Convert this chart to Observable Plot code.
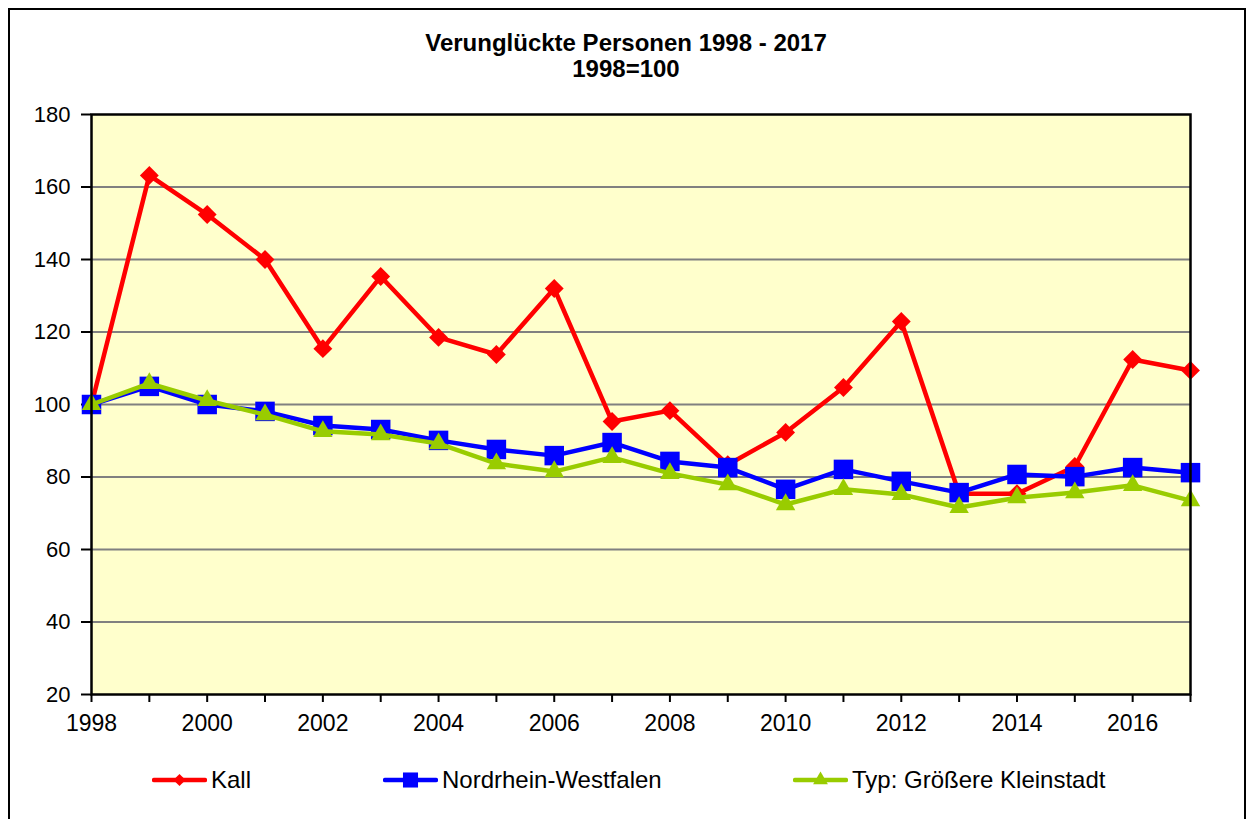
<!DOCTYPE html>
<html>
<head>
<meta charset="utf-8">
<script src="https://cdn.jsdelivr.net/npm/d3@7"></script>
<script src="https://cdn.jsdelivr.net/npm/@observablehq/plot@0.6"></script>
<style>
  html, body { margin: 0; padding: 0; background: #fff; }
  body { width: 1252px; height: 819px; position: relative; overflow: hidden; font-family: "Liberation Sans", Arial, sans-serif; }
  #frame { position: absolute; left: 8px; top: 8px; width: 1238px; height: 830px; border: 2px solid #000; box-sizing: border-box; }
  #title { position: absolute; left: 0; width: 1252px; top: 30px; text-align: center; font-weight: bold; font-size: 24px; line-height: 26px; color: #000; }
  #chart { position: absolute; left: 0; top: 0; }
  #legend { position: absolute; top: 765px; left: 0; width: 1252px; height: 30px; font-size: 24px; color: #000; }
  .item { position: absolute; top: 0; display: flex; align-items: center; height: 30px; }
  .item svg { margin-right: 4px; }
</style>
</head>
<body>
<div id="frame"></div>
<div id="title">Verunglückte Personen 1998 - 2017<br>1998=100</div>
<div id="chart"></div>
<div id="legend"></div>
<script>
const years = d3.range(1998, 2018);
const kall = [100, 163.2, 152.4, 140.0, 115.4, 135.3, 118.5, 113.8, 132.0, 95.3, 98.3, 83.4, 92.3, 104.7, 122.9, 75.4, 75.4, 82.9, 112.4, 109.4];
const nrw = [100, 105.0, 100.0, 98.1, 94.2, 93.1, 90.1, 87.6, 85.9, 89.5, 84.3, 82.6, 76.6, 82.1, 78.8, 75.7, 80.7, 80.1, 82.6, 81.2];
const kleinstadt = [100, 105.8, 101.1, 97.2, 92.6, 91.7, 89.2, 83.7, 81.5, 85.4, 81.0, 77.9, 72.4, 76.6, 75.2, 71.6, 74.3, 75.7, 77.7, 73.5];
const seriesNames = ["Kall", "Nordrhein-Westfalen", "Typ: Größere Kleinstadt"];
const seriesColors = ["#FF0000", "#0000FF", "#99CC00"];
const seriesSymbols = ["diamond2", "square", "triangle"];
const yTicks = [20, 40, 60, 80, 100, 120, 140, 160, 180];
const xTickLabels = [1998, 2000, 2002, 2004, 2006, 2008, 2010, 2012, 2014, 2016];

const allValues = [kall, nrw, kleinstadt];
const rows = [];
allValues.forEach((vals, i) => vals.forEach((v, j) => rows.push({year: years[j], value: v, series: seriesNames[i]})));
const symbolR = {"diamond2": 8.5, "square": 11, "triangle": 7.2};
const legendR = {"diamond2": 5.5, "square": 8.5, "triangle": 5.5};

const marks = [
  Plot.rect([0], {x1: years[0], x2: years[years.length - 1], y1: yTicks[0], y2: yTicks[yTicks.length - 1], fill: "#FFFFCC"}),
  Plot.ruleY(yTicks.slice(1, -1), {stroke: "#808080", strokeWidth: 2}),
  Plot.axisY({ticks: yTicks, tickSize: 10, tickPadding: 11, label: null, fontSize: 22, tickFormat: d => String(d), strokeWidth: 2}),
  Plot.axisX({ticks: years, tickSize: 8, tickPadding: 12, label: null, fontSize: 23, strokeWidth: 2,
    tickFormat: d => xTickLabels.includes(d) ? String(d) : ""})
];
seriesNames.forEach((name, i) => {
  const data = rows.filter(r => r.series === name);
  marks.push(Plot.line(data, {x: "year", y: "value", stroke: seriesColors[i], strokeWidth: 4.5, strokeLinejoin: "miter"}));
  marks.push(Plot.dot(data, {x: "year", y: "value", symbol: () => seriesSymbols[i], r: symbolR[seriesSymbols[i]], fill: seriesColors[i], stroke: "none"}));
});
marks.push(Plot.frame({stroke: "#000", strokeWidth: 2.5}));

const chart = Plot.plot({
  width: 1252,
  height: 745,
  marginTop: 114,
  marginBottom: 51,
  marginLeft: 91,
  marginRight: 62,
  style: {fontFamily: "Liberation Sans, Arial, sans-serif", fontSize: "22px", color: "#000", background: "transparent"},
  x: {domain: [years[0], years[years.length - 1]]},
  y: {domain: [yTicks[0], yTicks[yTicks.length - 1]]},
  symbol: {type: "identity"},
  marks
});
document.getElementById("chart").appendChild(chart);

// Legend
const legend = document.getElementById("legend");
const legendLeft = [152, 383, 793];
seriesNames.forEach((name, i) => {
  const item = document.createElement("div");
  item.className = "item";
  item.style.left = legendLeft[i] + "px";
  const svg = d3.create("svg").attr("width", 55).attr("height", 30);
  svg.append("line").attr("x1", 2).attr("x2", 53).attr("y1", 15).attr("y2", 15)
    .attr("stroke", seriesColors[i]).attr("stroke-width", 4.5).attr("stroke-linecap", "round");
  const sym = {"diamond2": d3.symbolDiamond2, "square": d3.symbolSquare, "triangle": d3.symbolTriangle}[seriesSymbols[i]];
  const r = legendR[seriesSymbols[i]];
  svg.append("path").attr("transform", "translate(27.5,15)")
    .attr("d", d3.symbol(sym, Math.PI * r * r)()).attr("fill", seriesColors[i]);
  item.appendChild(svg.node());
  const t = document.createElement("span");
  t.textContent = name;
  item.appendChild(t);
  legend.appendChild(item);
});
</script>
</body>
</html>
